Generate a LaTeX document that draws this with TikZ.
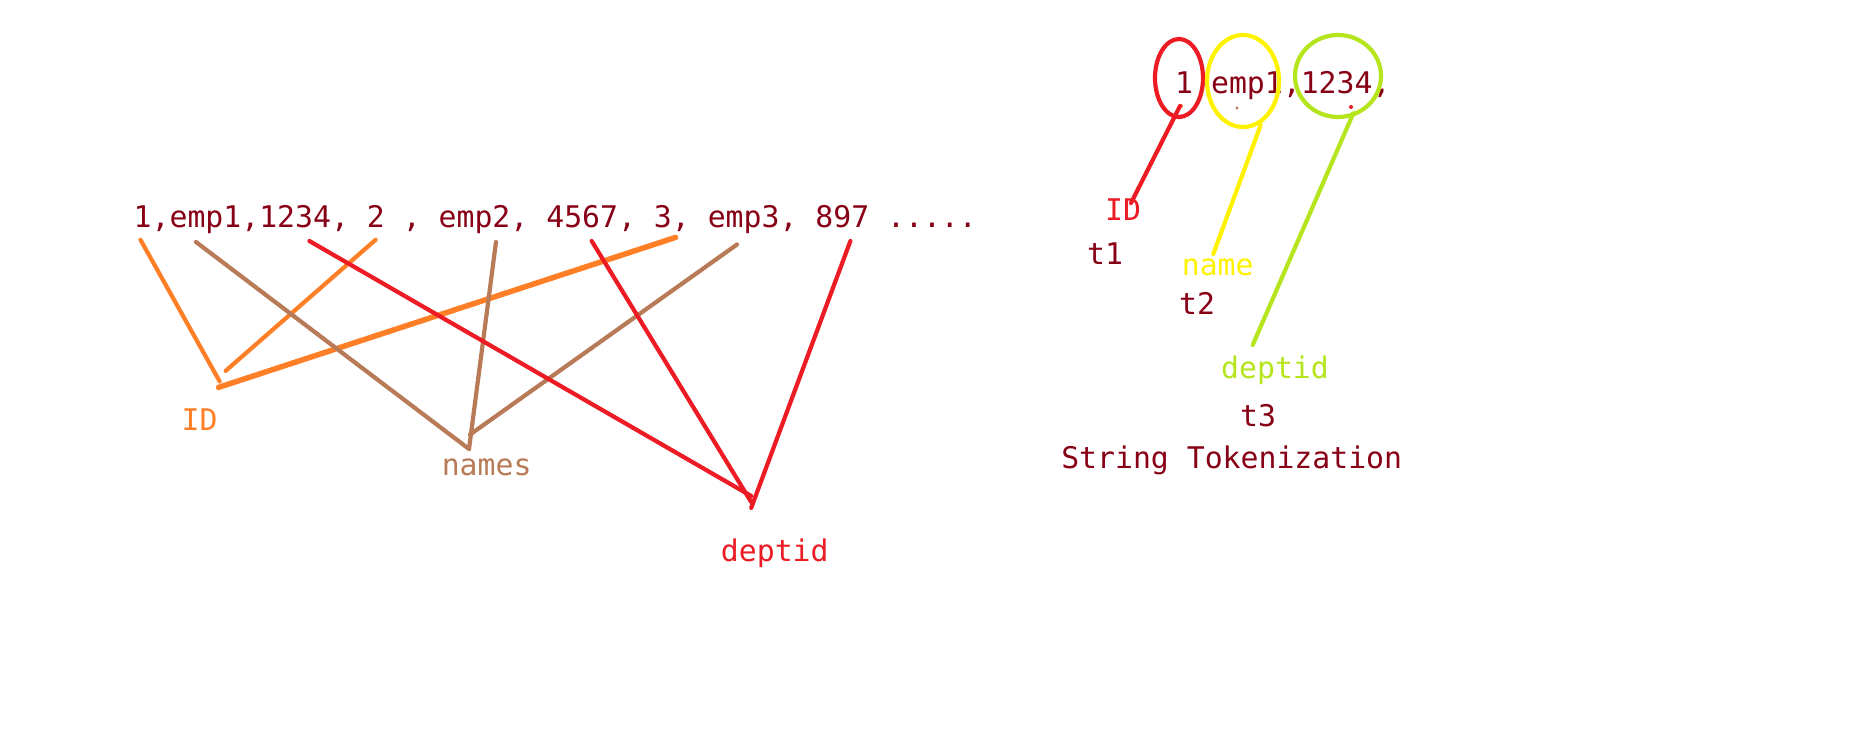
\documentclass[tikz,border=0pt]{standalone}
\usepackage{fontspec}
\setmonofont{DejaVu Sans Mono}
\definecolor{maroon}{HTML}{880015}
\definecolor{porange}{HTML}{FF7F27}
\definecolor{pbrown}{HTML}{B97A57}
\definecolor{pred}{HTML}{ED1C24}
\definecolor{pyellow}{HTML}{FFF200}
\definecolor{plime}{HTML}{B5E61D}
\tikzset{
  txt/.style={inner sep=0pt, anchor=base, font=\ttfamily\fontsize{29.8}{32}\selectfont},
  wire/.style={line width=4.2pt, line cap=round},
  ring/.style={draw, line width=4.2pt},
}
\begin{document}
\begin{tikzpicture}[x=1pt,y=-1pt]
\useasboundingbox (0,0) rectangle (1852,743);
\fill[white] (0,0) rectangle (1852,743);

% main string
\node[txt, anchor=base west, text=maroon] (str) at (133.5,228) {1,emp1,1234, 2 , emp2, 4567, 3, emp3, 897 .....};

% left labels
\node[txt, text=porange] (idl) at (199.6,430) {ID};
\node[txt, text=pbrown] (names) at (486.6,475) {names};
\node[txt, text=pred] (dep) at (774.8,561) {deptid};

% endpoints
\coordinate (o1a) at (140.5,239.8); \coordinate (o1b) at (219.7,381.5);
\coordinate (o2a) at (375.6,239.8); \coordinate (o2b) at (225.6,370.9);
\coordinate (o3a) at (675.6,237.4); \coordinate (o3b) at (218.5,387.4);
\coordinate (b1a) at (196,242);     \coordinate (b1b) at (469,449);
\coordinate (b2a) at (496,242);     \coordinate (b2b) at (469,449);
\coordinate (b3a) at (737,244.5);   \coordinate (b3b) at (470,434.6);
\coordinate (r1a) at (309.4,241);   \coordinate (r1b) at (751.2,496);
\coordinate (r2a) at (591.7,241);   \coordinate (r2b) at (751.2,502);
\coordinate (r3a) at (850.4,241);   \coordinate (r3b) at (751.2,507.9);

\draw[wire, porange] (o1a) -- (o1b);
\draw[wire, porange] (o2a) -- (o2b);
\draw[wire, porange, line width=5.5pt] (o3a) -- (o3b);
\draw[wire, pbrown] (b1a) -- (b1b);
\draw[wire, pbrown] (b2a) -- (b2b);
\draw[wire, pbrown] (b3a) -- (b3b);
\draw[wire, pred] (r1a) -- (r1b);
\draw[wire, pred] (r2a) -- (r2b);
\draw[wire, pred] (r3a) -- (r3b);

% right part
\node[txt, anchor=base west, text=maroon] (tok) at (1175,93.5) {1 emp1,1234,};
\draw[ring, pred] (1179,78) ellipse [x radius=24, y radius=39];
\draw[ring, pyellow] (1243,81) ellipse [x radius=36, y radius=46];
\draw[ring, plime] (1338,76) ellipse [x radius=43, y radius=41];
\coordinate (e1) at (1180,106);
\coordinate (e2) at (1260.7,125);
\coordinate (e3) at (1353.3,113.3);
\coordinate (f1) at (1131,203);
\coordinate (f2) at (1213.3,254);
\coordinate (f3) at (1252.7,345);
\fill[porange] (1181,106) circle (2pt);
\fill[pbrown] (1237,108) circle (1.6pt);
\fill[pred] (1351,107) circle (2pt);

\node[txt, text=pred] (idr) at (1123,221) {ID};
\node[txt, text=maroon] (t1) at (1105,265) {t1};
\node[txt, text=pyellow] (name) at (1217.7,276) {name};
\node[txt, text=maroon] (t2) at (1197,315) {t2};
\node[txt, text=plime] (dr) at (1275,378) {deptid};
\node[txt, text=maroon] (t3) at (1258,426) {t3};
\node[txt, text=maroon] (st) at (1231.7,468) {String Tokenization};

\draw[wire, pred] (e1) -- (f1);
\draw[wire, pyellow] (e2) -- (f2);
\draw[wire, plime] (e3) -- (f3);
\end{tikzpicture}
\end{document}
